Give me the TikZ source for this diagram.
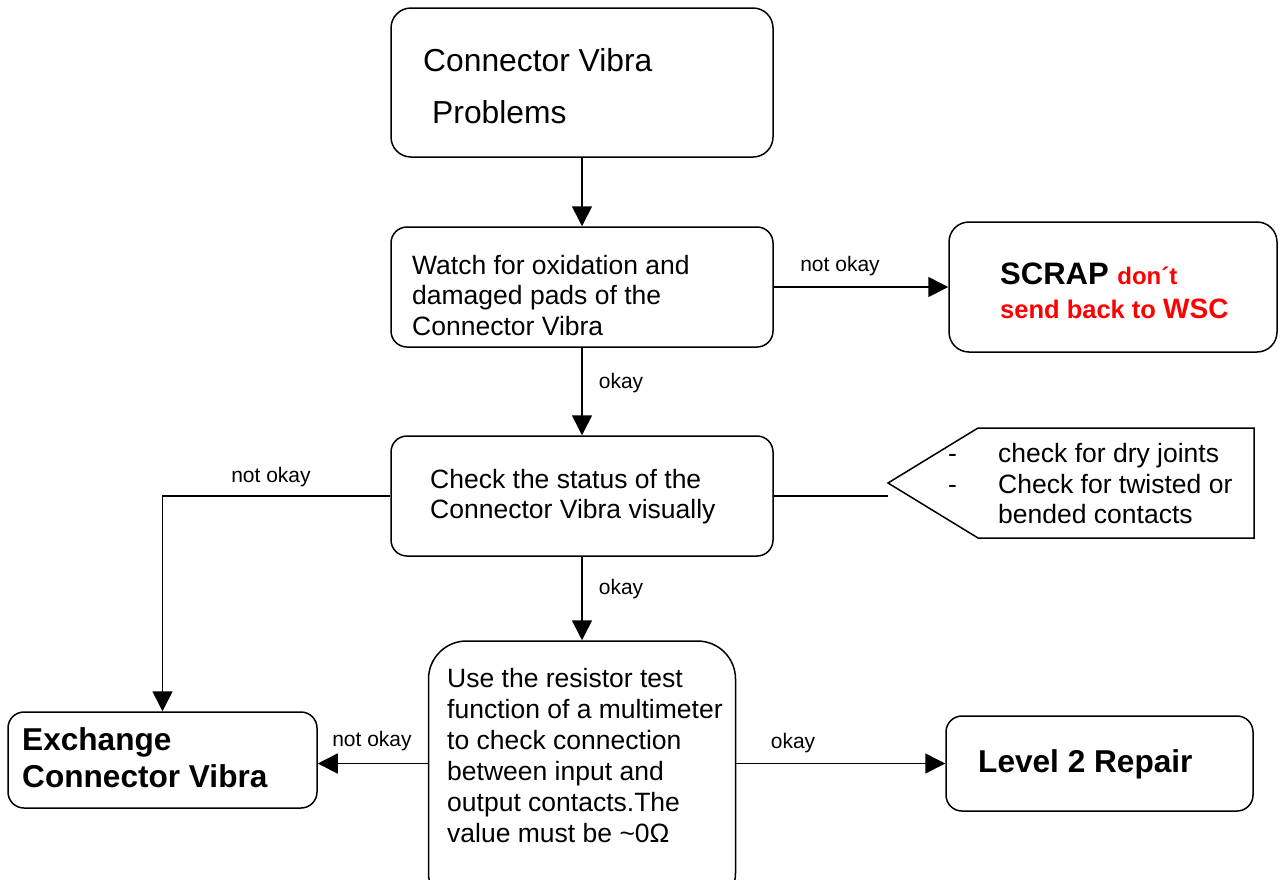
\documentclass[tikz,border=0pt]{standalone}
\usepackage{fontspec}
\setmainfont{Liberation Sans}
\usetikzlibrary{arrows.meta}
\definecolor{scrapred}{RGB}{255,0,0}
\tikzset{
  box/.style={draw, line width=1.5pt, rounded corners=#1, inner sep=0pt},
  box/.default=16pt,
  arr/.style={line width=1.6pt, -{Triangle[length=20pt,width=20pt]}},
  conn/.style={line width=1.6pt},
  txt/.style={inner sep=0pt, align=left, anchor=west, font=\fontsize{26.5}{30.5}\selectfont},
  lbl/.style={inner sep=0pt, font=\fontsize{21}{24}\selectfont},
  bigtxt/.style={inner sep=0pt, align=left, anchor=west, font=\fontsize{31.6}{37}\selectfont\bfseries},
}
\begin{document}
\begin{tikzpicture}[x=1pt,y=-1pt]
\useasboundingbox (0,0) rectangle (1282,879);
% boxes
\node[box=20pt, minimum width=382pt, minimum height=149pt] (b1) at (582,82.5) {};
\node[box, minimum width=382pt, minimum height=120pt] (b2) at (582,287) {};
\node[box=20pt, minimum width=328pt, minimum height=130pt] (scrap) at (1113,287) {};
\node[box, minimum width=382pt, minimum height=120pt] (b3) at (582,496) {};
\node[box=38pt, minimum width=307pt, minimum height=270pt] (b4) at (582,776) {};
\node[box, minimum width=309pt, minimum height=96pt] (exch) at (162.5,760) {};
\node[box, minimum width=307pt, minimum height=95pt] (lv) at (1099.5,763.5) {};
% callout
\coordinate (tip) at (888,483);
\draw[line width=1.5pt] (tip) -- (978,428) -- (1254,428) -- (1254,538) -- (978,538) -- cycle;
% texts
\node[txt, font=\fontsize{31.8}{52}\selectfont] (t1) at (423,86) {Connector Vibra\\\hspace*{9pt}Problems};
\node[txt] (t2) at (412,295.5) {Watch for oxidation and\\damaged pads of the\\Connector Vibra};
\node[txt] (t3) at (430,496.5) {Check the status of the\\Connector Vibra visually};
\node[txt, font=\fontsize{26.5}{31}\selectfont] (t4) at (447,756) {Use the resistor test\\function of a multimeter\\to check connection\\between input and\\output contacts.The\\value must be \textasciitilde0Ω};
\node[txt] (tc) at (948,484) {\makebox[50pt][l]{-}check for dry joints\\\makebox[50pt][l]{-}Check for twisted or\\\hspace*{50pt}bended contacts};
\node[bigtxt, font=\fontsize{26}{34}\selectfont\bfseries] (ts) at (1000,291) {\fontsize{31}{34}\selectfont SCRAP \fontsize{24}{34}\selectfont\color{scrapred}don\char"00B4 t\\\color{scrapred}\fontsize{25.5}{34}\selectfont send back to \fontsize{28}{34}\selectfont WSC};
\node[bigtxt] (te) at (22,758) {Exchange\\Connector Vibra};
\node[bigtxt] (tl) at (978,764) {Level 2 Repair};
% connectors
\draw[arr] (b1.south) -- (b2.north);
\draw[arr] (b2.east) -- (b2.east -| scrap.west);
\draw[arr] (b2.south) -- (b3.north);
\draw[arr] (b3.west) -| (exch.north);
\draw[conn] (b3.east) -- (b3.east -| tip);
\draw[arr] (b3.south) -- (b4.north);
\draw[arr] (b4.west |- lv.west) -- (exch.east |- lv.west);
\draw[arr] (b4.east |- lv.west) -- (lv.west);
% labels
\node[lbl] (l1) at (840,266) {not okay};
\node[lbl] (l2) at (621,383) {okay};
\node[lbl] (l3) at (271,477) {not okay};
\node[lbl] (l4) at (621,589) {okay};
\node[lbl] (l5) at (372,741) {not okay};
\node[lbl] (l6) at (793,743) {okay};
\end{tikzpicture}
\end{document}
